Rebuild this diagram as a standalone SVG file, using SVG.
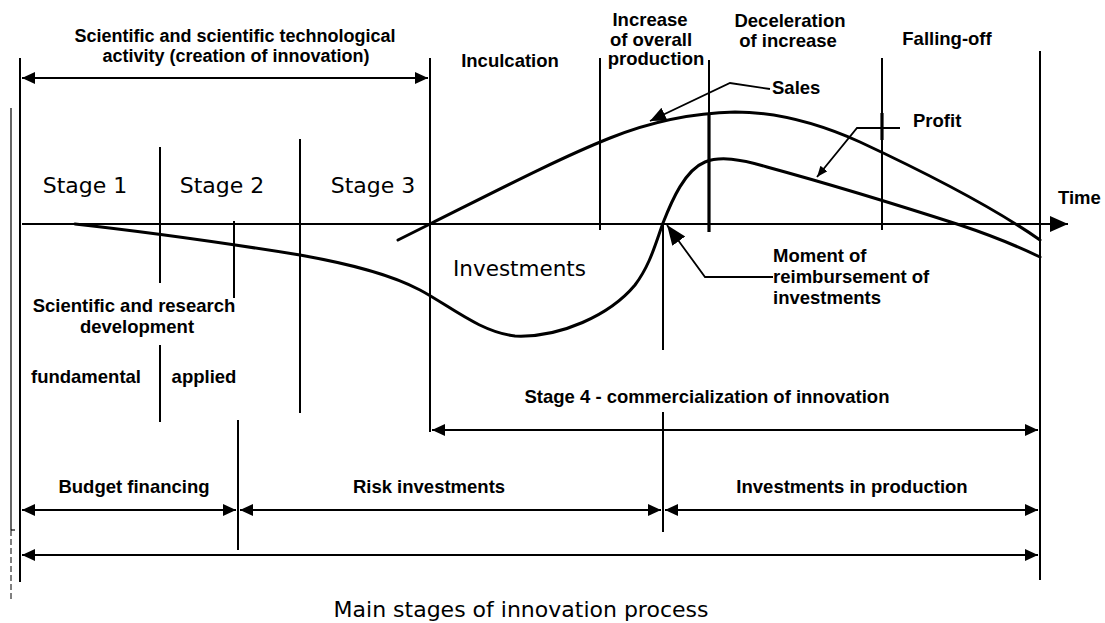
<svg xmlns="http://www.w3.org/2000/svg" width="1105" height="623" viewBox="0 0 1105 623">
<style>
.ln{stroke:#000;stroke-width:2;fill:none}
.thk{stroke:#000;stroke-width:3.2;fill:none}
.crv{stroke:#000;stroke-width:3;fill:none;stroke-linejoin:round;stroke-linecap:round}
.ptr{stroke:#000;stroke-width:1.8;fill:none}
.b{font-family:"Liberation Sans",Arial,sans-serif;font-weight:bold;font-size:18.5px;fill:#000}
.st{font-family:"DejaVu Sans",Verdana,sans-serif;font-size:22px;fill:#000}
.cap{font-family:"DejaVu Sans",Verdana,sans-serif;font-size:22px;fill:#000}
.m{text-anchor:middle}
</style>
<defs>
<marker id="ah" markerUnits="userSpaceOnUse" markerWidth="14" markerHeight="14" refX="13" refY="6" orient="auto-start-reverse"><path d="M0,0 L13,6 L0,12 z" fill="#000"/></marker>
<marker id="ahBig" markerUnits="userSpaceOnUse" markerWidth="20" markerHeight="18" refX="18" refY="8" orient="auto"><path d="M0,0 L18,8 L0,16 z" fill="#000"/></marker>
<marker id="ahMed" markerUnits="userSpaceOnUse" markerWidth="18" markerHeight="16" refX="16" refY="7" orient="auto"><path d="M0,0 L16,7 L0,14 z" fill="#000"/></marker>
<marker id="ahLrg" markerUnits="userSpaceOnUse" markerWidth="22" markerHeight="18" refX="20" refY="8" orient="auto"><path d="M0,0 L20,8 L0,16 z" fill="#000"/></marker>
<marker id="ahSm" markerUnits="userSpaceOnUse" markerWidth="12" markerHeight="10" refX="11" refY="4.5" orient="auto"><path d="M0,0 L11,4.5 L0,9 z" fill="#000"/></marker>
</defs>
<rect width="1105" height="623" fill="#fff"/>

<g id="frame">
<line class="ln" x1="20" y1="58" x2="20" y2="582"/>
<line stroke="#000" stroke-width="1.2" x1="11" y1="108" x2="11" y2="530"/>
<line stroke="#000" stroke-width="1.2" x1="11" y1="530" x2="15" y2="530"/>
<line stroke="#000" stroke-width="1" stroke-dasharray="6,3" x1="11" y1="530" x2="11" y2="600"/>
<line class="ln" x1="430" y1="58" x2="430" y2="432"/>
<line class="ln" x1="160" y1="147" x2="160" y2="283"/>
<line class="ln" x1="160" y1="345" x2="160" y2="422"/>
<line class="ln" x1="234" y1="221" x2="234" y2="298"/>
<line class="ln" x1="238" y1="420" x2="238" y2="550"/>
<line class="ln" x1="300" y1="139" x2="300" y2="413"/>
<line class="ln" x1="600" y1="58" x2="600" y2="230"/>
<line class="ln" x1="663" y1="223" x2="663" y2="350"/>
<line class="ln" x1="663" y1="412" x2="663" y2="532"/>
<line class="ln" x1="709" y1="60" x2="709" y2="113"/>
<line class="thk" x1="709" y1="113" x2="709" y2="232"/>
<line class="ln" x1="882" y1="58" x2="882" y2="230"/>
<line class="thk" x1="882" y1="113" x2="882" y2="140"/>
<line class="ln" x1="1040" y1="51" x2="1040" y2="580"/>
</g>

<g id="connectors">
<line class="ln" x1="22" y1="78" x2="428" y2="78" marker-start="url(#ah)" marker-end="url(#ah)"/>
<line class="ln" stroke-width="2.5" x1="22" y1="224" x2="1068" y2="224" marker-end="url(#ahBig)"/>
<line class="ln" x1="432" y1="430" x2="1038" y2="430" marker-start="url(#ah)" marker-end="url(#ah)"/>
<line class="ln" x1="22" y1="510" x2="236" y2="510" marker-start="url(#ah)" marker-end="url(#ah)"/>
<line class="ln" x1="240" y1="510" x2="661" y2="510" marker-start="url(#ah)" marker-end="url(#ah)"/>
<line class="ln" x1="665" y1="510" x2="1038" y2="510" marker-start="url(#ah)" marker-end="url(#ah)"/>
<line class="ln" x1="22" y1="555" x2="1038" y2="555" marker-start="url(#ah)" marker-end="url(#ah)"/>
<polyline class="ptr" points="770,89 730,83 650,121" marker-end="url(#ahMed)"/>
<polyline class="ptr" points="900,128 857,128 817,177" marker-end="url(#ahSm)"/>
<polyline class="ptr" points="773,277 705,277 667,225" marker-end="url(#ahLrg)"/>
</g>

<g id="curves">
<path id="investments-profit" class="crv" d="M75,224 C120,229 200,239 300,255 C350,264 390,274 420,290 C450,306 480,332 515,336 C560,338 610,315 635,285 C650,265 655,245 663,223 C672,200 685,170 705,162 C720,156 740,159 767,167 C800,176 870,196 960,225 C990,235 1015,245 1040,257"/>
<path id="sales" class="crv" d="M398,240 L430,224 C500,189 560,158 610,138 C650,122 690,113 735,112 C780,112 820,124 860,142 C920,170 990,205 1040,240"/>
</g>

<g id="top-labels">
<text class="b m" x="235" y="42" style="font-size:18px">Scientific and scientific technological</text>
<text class="b m" x="236" y="62" style="font-size:18px">activity (creation of innovation)</text>
<text class="b m" x="510" y="67">Inculcation</text>
<text class="b m" x="650" y="26">Increase</text>
<text class="b m" x="651" y="46">of overall</text>
<text class="b m" x="656" y="65">production</text>
<text class="b m" x="790" y="27">Deceleration</text>
<text class="b m" x="788" y="47">of increase</text>
<text class="b m" x="947" y="45">Falling-off</text>
</g>

<g id="curve-labels">
<text class="b" x="772" y="94">Sales</text>
<text class="b" x="913" y="127">Profit</text>
<text class="b" x="1058" y="204">Time</text>
<text class="b" x="773" y="262">Moment of</text>
<text class="b" x="773" y="283">reimbursement of</text>
<text class="b" x="773" y="304">investments</text>
<text class="st" x="453" y="276" style="font-size:21.5px">Investments</text>
</g>

<g id="stages">
<text class="st m" x="85" y="193">Stage 1</text>
<text class="st m" x="222" y="193">Stage 2</text>
<text class="st m" x="373" y="193">Stage 3</text>
<text class="b m" x="134" y="312">Scientific and research</text>
<text class="b m" x="137" y="333">development</text>
<text class="b m" x="86" y="383">fundamental</text>
<text class="b m" x="204" y="383">applied</text>
<text class="b m" x="707" y="403">Stage 4 - commercialization of innovation</text>
</g>

<g id="financing">
<text class="b m" x="134" y="493">Budget financing</text>
<text class="b m" x="429" y="493">Risk investments</text>
<text class="b m" x="852" y="493">Investments in production</text>
</g>

<g id="caption">
<text class="cap m" x="521" y="617">Main stages of innovation process</text>
</g>
</svg>
